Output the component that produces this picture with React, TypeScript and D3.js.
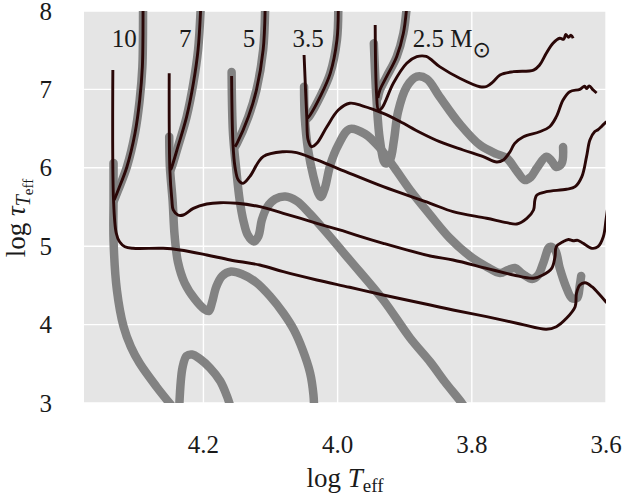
import React from "react";
import * as d3 from "d3";

type P = [number, number];

const xTicks = [4.2, 4.0, 3.8, 3.6];
const yTicks = [3, 4, 5, 6, 7, 8];

// ---- 10 Msun ----
const m10Pre: P[] = [[4.290, 8.05], [4.290, 7.991], [4.291, 7.290], [4.295, 6.865], [4.302, 6.440], [4.314, 6.014], [4.327, 5.717], [4.333, 5.589]];
const m10Main: P[] = [[4.335, 7.247], [4.334, 5.589], [4.330, 5.168], [4.325, 5.057], [4.317, 4.994], [4.305, 4.973], [4.260, 4.973], [4.235, 4.952], [4.195, 4.888], [4.160, 4.824], [4.116, 4.760], [4.081, 4.675], [4.031, 4.569], [3.982, 4.476], [3.932, 4.378], [3.862, 4.250], [3.828, 4.186], [3.778, 4.101], [3.728, 4.008], [3.689, 3.940], [3.674, 3.973], [3.659, 4.080], [3.646, 4.228], [3.644, 4.399], [3.639, 4.505], [3.631, 4.534], [3.621, 4.483], [3.609, 4.378], [3.599, 4.279]];
const m10Gray: P[] = [[4.334, 6.061], [4.334, 5.589], [4.334, 5.079], [4.329, 4.441], [4.319, 3.973], [4.308, 3.714], [4.295, 3.506], [4.270, 3.208], [4.247, 2.962]];
const grayArch: P[] = [[4.236, 2.962], [4.231, 3.459], [4.225, 3.600], [4.217, 3.619], [4.205, 3.561], [4.190, 3.446], [4.175, 3.281], [4.165, 3.089], [4.160, 2.962]];

// ---- 7 Msun ----
const m7Pre: P[] = [[4.204, 8.05], [4.208, 7.503], [4.215, 7.078], [4.225, 6.652], [4.238, 6.269], [4.247, 6.014], [4.249, 5.972]];
const m7Main: P[] = [[4.251, 7.205], [4.250, 5.972], [4.247, 5.589], [4.245, 5.462], [4.238, 5.398], [4.230, 5.398], [4.215, 5.483], [4.195, 5.538], [4.175, 5.555], [4.150, 5.547], [4.116, 5.504], [4.081, 5.420], [4.031, 5.292], [3.997, 5.207], [3.932, 5.037], [3.862, 4.875], [3.828, 4.824], [3.778, 4.718], [3.738, 4.633], [3.708, 4.591], [3.694, 4.633], [3.681, 4.718], [3.676, 4.866], [3.674, 4.994], [3.664, 5.057], [3.656, 5.085], [3.649, 5.070], [3.642, 5.075], [3.634, 5.037], [3.621, 4.973], [3.612, 4.994], [3.604, 5.121], [3.600, 5.334], [3.597, 5.526]];
const m7Gray: P[] = [[4.251, 6.397], [4.250, 6.014], [4.246, 5.589], [4.243, 5.143], [4.238, 4.798], [4.228, 4.531], [4.213, 4.327], [4.199, 4.199], [4.192, 4.173], [4.187, 4.288], [4.181, 4.480], [4.172, 4.620], [4.159, 4.677], [4.143, 4.645], [4.122, 4.543], [4.101, 4.365], [4.081, 4.148], [4.065, 3.931], [4.052, 3.676], [4.041, 3.383], [4.036, 3.102], [4.035, 2.91]];

// ---- 5 Msun ----
const m5Pre: P[] = [[4.108, 8.05], [4.111, 7.503], [4.121, 6.992], [4.133, 6.652], [4.150, 6.312], [4.153, 6.269]];
const m5Main: P[] = [[4.158, 7.171], [4.156, 6.312], [4.153, 6.014], [4.148, 5.844], [4.141, 5.802], [4.131, 5.887], [4.111, 6.142], [4.081, 6.205], [4.061, 6.193], [4.031, 6.100], [3.982, 5.930], [3.932, 5.759], [3.862, 5.547], [3.828, 5.440], [3.778, 5.356], [3.748, 5.300], [3.733, 5.283], [3.718, 5.356], [3.708, 5.462], [3.706, 5.589], [3.703, 5.653], [3.689, 5.695], [3.659, 5.726], [3.646, 5.759], [3.636, 5.887], [3.629, 6.142], [3.624, 6.355], [3.617, 6.460], [3.612, 6.485], [3.607, 6.524], [3.602, 6.568], [3.597, 6.597]];
const m5Gray: P[] = [[4.158, 7.222], [4.156, 6.444], [4.151, 5.972], [4.146, 5.589], [4.140, 5.309], [4.134, 5.143], [4.125, 5.060], [4.118, 5.130], [4.113, 5.334], [4.105, 5.500], [4.093, 5.602], [4.078, 5.634], [4.061, 5.577], [4.041, 5.411], [4.016, 5.168], [3.982, 4.824], [3.932, 4.314], [3.892, 3.829], [3.862, 3.523], [3.840, 3.268], [3.815, 3.000], [3.807, 2.898]];

// ---- 3.5 Msun ----
const m35Pre: P[] = [[3.999, 8.05], [4.001, 7.630], [4.011, 7.205], [4.026, 6.907], [4.041, 6.673], [4.045, 6.631]];
const m35Main: P[] = [[4.050, 7.439], [4.046, 6.652], [4.044, 6.355], [4.039, 6.269], [4.031, 6.312], [4.016, 6.524], [3.999, 6.737], [3.982, 6.823], [3.962, 6.788], [3.932, 6.695], [3.907, 6.591], [3.877, 6.450], [3.848, 6.333], [3.813, 6.227], [3.783, 6.142], [3.763, 6.074], [3.753, 6.100], [3.743, 6.205], [3.736, 6.312], [3.723, 6.397], [3.699, 6.460], [3.684, 6.524], [3.674, 6.652], [3.664, 6.865], [3.654, 6.971], [3.639, 7.001], [3.632, 7.040], [3.629, 7.010], [3.625, 7.045], [3.619, 6.992], [3.614, 6.954]];
const m35Gray: P[] = [[4.050, 7.034], [4.049, 6.652], [4.044, 6.227], [4.036, 5.887], [4.029, 5.679], [4.025, 5.628], [4.019, 5.742], [4.011, 6.036], [3.999, 6.291], [3.982, 6.495], [3.959, 6.431], [3.937, 6.253], [3.915, 5.997], [3.892, 5.717], [3.862, 5.398], [3.833, 5.105], [3.803, 4.875], [3.778, 4.739], [3.758, 4.658], [3.746, 4.696], [3.736, 4.722], [3.724, 4.645], [3.710, 4.582], [3.701, 4.633], [3.693, 4.798], [3.684, 4.990], [3.676, 4.952], [3.669, 4.722], [3.660, 4.492], [3.651, 4.339], [3.643, 4.339], [3.639, 4.505], [3.637, 4.620]];

// ---- 2.5 Msun ----
const m25Pre: P[] = [[3.897, 8.05], [3.902, 7.716], [3.912, 7.417], [3.927, 7.162], [3.937, 6.992], [3.940, 6.890]];
const m25Main: P[] = [[3.944, 7.821], [3.942, 6.950], [3.939, 6.737], [3.934, 6.763], [3.917, 7.078], [3.897, 7.333], [3.882, 7.417], [3.868, 7.420], [3.848, 7.290], [3.818, 7.142], [3.788, 7.034], [3.778, 7.037], [3.768, 7.098], [3.758, 7.184], [3.738, 7.226], [3.708, 7.247], [3.699, 7.311], [3.689, 7.460], [3.679, 7.588], [3.669, 7.652], [3.663, 7.640], [3.660, 7.700], [3.656, 7.665], [3.652, 7.690], [3.649, 7.652]];
const m25Gray: P[] = [[3.946, 7.588], [3.942, 6.865], [3.937, 6.355], [3.929, 6.057], [3.922, 6.100], [3.916, 6.355], [3.910, 6.712], [3.897, 7.034], [3.882, 7.162], [3.867, 7.133], [3.848, 6.907], [3.818, 6.559], [3.788, 6.291], [3.763, 6.176], [3.748, 6.125], [3.733, 5.959], [3.721, 5.844], [3.712, 5.883], [3.703, 5.997], [3.689, 6.142], [3.681, 6.087], [3.674, 6.010], [3.666, 6.057], [3.664, 6.265]];

const massLabels = ["10", "7", "5", "3.5"];
const massLabelX = [4.318, 4.227, 4.132, 4.044];
const labelY = 7.54;
const sunLabelX = 3.888;

const grayTracks: P[][] = [m10Pre, m10Gray, grayArch, m7Pre, m7Gray, m5Pre, m5Gray, m35Pre, m35Gray, m25Pre, m25Gray];
const blackTracks: P[][] = [m10Pre, m10Main, m7Pre, m7Main, m5Pre, m5Main, m35Pre, m35Main, m25Pre, m25Main];

export default function App() {
  const W = 623, H = 496;
  const L = 84, R = 606, T = 11, B = 403;
  const x = d3.scaleLinear().domain([4.378, 3.6]).range([L, R]);
  const y = d3.scaleLinear().domain([3, 8]).range([B, T]);
  const line = d3
    .line<P>()
    .x((d) => x(d[0]))
    .y((d) => y(d[1]))
    .curve(d3.curveCatmullRom.alpha(0.5));
  const font = "'Liberation Serif', 'DejaVu Serif', serif";
  const textColor = "#1a1a1a";
  const black = "#2a0707";

  return (
    <svg width={W} height={H} style={{ position: "absolute", left: 0, top: 0, background: "#fff" }} fontFamily={font}>
      <defs>
        <clipPath id="plotclip">
          <rect x={L} y={T} width={R - L} height={B - T} />
        </clipPath>
      </defs>
      <rect x={L} y={T} width={R - L} height={B - T} fill="#e5e5e5" />
      {xTicks.map((t) => (
        <line key={"gx" + t} x1={x(t)} x2={x(t)} y1={T} y2={B} stroke="#fff" strokeWidth={1.4} />
      ))}
      {yTicks.map((t) => (
        <line key={"gy" + t} x1={L} x2={R} y1={y(t)} y2={y(t)} stroke="#fff" strokeWidth={1.4} />
      ))}
      <g clipPath="url(#plotclip)" fill="none">
        {grayTracks.map((d, i) => (
          <path key={"g" + i} d={line(d) || ""} stroke="#828282" strokeWidth={8.5} strokeLinecap="round" strokeLinejoin="round" />
        ))}
        {blackTracks.map((d, i) => (
          <path key={"b" + i} d={line(d) || ""} stroke={black} strokeWidth={2.9} strokeLinecap="butt" strokeLinejoin="round" />
        ))}
      </g>
      {xTicks.map((t) => (
        <text key={"tx" + t} x={x(t)} y={453} textAnchor="middle" fontSize={25} fill={textColor}>
          {t.toFixed(1)}
        </text>
      ))}
      {yTicks.map((t) => (
        <text key={"ty" + t} x={52} y={y(t) + 8.5} textAnchor="end" fontSize={25} fill={textColor}>
          {t}
        </text>
      ))}
      {massLabels.map((m, i) => (
        <text key={"m" + m} x={x(massLabelX[i])} y={y(labelY)} textAnchor="middle" fontSize={25} fill={textColor}>
          {m}
        </text>
      ))}
      <text x={x(sunLabelX)} y={y(labelY)} fontSize={25} fill={textColor}>
        2.5 M
        <tspan fontFamily="'DejaVu Sans'" fontSize={22} dy={10}>⊙</tspan>
      </text>
      <text x={(L + R) / 2} y={487} textAnchor="middle" fontSize={27} fill={textColor}>
        log <tspan fontStyle="italic">T</tspan>
        <tspan fontSize={19} dy={5}>eff</tspan>
      </text>
      <text transform={`translate(25, 218) rotate(-90)`} textAnchor="middle" fontSize={27} fill={textColor}>
        log <tspan fontStyle="italic">τ</tspan>
        <tspan fontStyle="italic" fontSize={20} dy={5}>T</tspan>
        <tspan fontSize={15} dy={3}>eff</tspan>
      </text>
    </svg>
  );
}
